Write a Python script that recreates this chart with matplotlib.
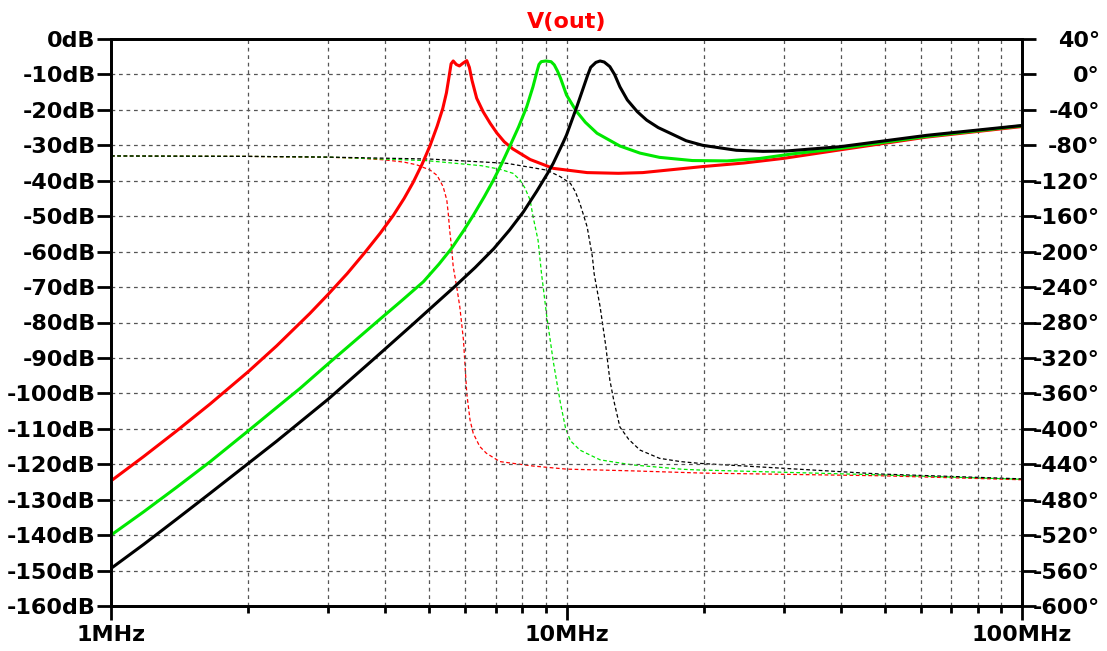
import matplotlib
matplotlib.use("Agg")
import matplotlib.pyplot as plt
from matplotlib.ticker import NullFormatter, LogLocator

plt.rcParams['font.family'] = ['DejaVu Sans']
plt.rcParams['font.weight'] = 'bold'

# magnitude curves (MHz, dB)
red_f = [1.0, 1.18, 1.39, 1.65, 2.0, 2.31, 2.73, 3.0, 3.3, 3.6, 3.9, 4.17, 4.4, 4.6, 4.82,
         5.02, 5.2, 5.35, 5.45, 5.53, 5.58, 5.64, 5.73, 5.82, 5.93, 6.04, 6.12, 6.2, 6.35, 6.56,
         6.8, 7.03, 7.3, 7.62, 8.32, 9.35, 11.1, 13.0, 14.7, 19.9, 24.5, 29.9, 39.8, 61.6, 100]
red_db = [-124.7, -117.8, -110.7, -103.0, -93.9, -86.6, -77.5, -72.0, -66.2, -60.4, -54.8, -49.7, -45.0, -40.6, -35.3,
          -30.0, -24.6, -19.6, -15.2, -10.2, -7.0, -6.2, -7.2, -7.6, -6.8, -6.1, -8, -11.6, -16.7, -20.5,
          -23.8, -26.5, -29.0, -31.0, -34.0, -36.5, -37.7, -37.9, -37.7, -36.0, -35.0, -33.7, -31.3, -27.7, -24.7]

green_f = [1.0, 1.18, 1.39, 1.65, 2.0, 2.31, 2.6, 3.0, 3.4, 3.9, 4.35, 4.85, 5.25, 5.6, 5.95,
           6.24, 6.6, 6.9, 7.2, 7.5, 7.85, 8.18, 8.44, 8.6, 8.7, 8.8, 9.0, 9.25, 9.4, 9.55,
           9.7, 10.0, 10.5, 11.0, 11.67, 13.1, 14.5, 16.0, 18.9, 22.5, 26.6, 31.4, 39.8, 61.6, 100]
green_db = [-140, -133.4, -126.6, -119.3, -110.6, -104.0, -98.6, -91.6, -85.6, -79.0, -73.8, -68.5, -63.5, -59.0, -54.0,
            -49.8, -44.5, -40, -35.3, -30.4, -24.8, -19.1, -13.5, -9.5, -7.2, -6.4, -6.2, -6.4, -7.3, -9,
            -11, -15.8, -20.3, -23.5, -26.6, -30.2, -32.2, -33.4, -34.3, -34.4, -33.7, -32.4, -30.9, -27.5, -24.5]

black_f = [1.0, 1.18, 1.39, 1.65, 2.0, 2.31, 3.0, 3.83, 4.6, 5.1, 5.69, 6.3, 6.92, 7.5, 8.04,
           8.6, 9.1, 9.35, 9.84, 10.0, 10.55, 10.9, 11.13, 11.3, 11.6, 11.85, 12.1, 12.45, 12.75, 13.1,
           13.6, 14.3, 15.0, 15.9, 16.9, 18.3, 19.9, 23.6, 27.0, 30.4, 39.8, 61.6, 100]
black_db = [-149.4, -142.6, -135.6, -128.2, -119.8, -113.5, -101.6, -89.6, -80.5, -75.3, -69.8, -64.5, -59.2, -53.9, -48.8,
            -43.0, -37.8, -35.1, -29.1, -27.1, -18.9, -13.6, -10.2, -8.0, -6.6, -6.2, -6.5, -7.8, -10, -13.5,
            -17.2, -20.5, -22.9, -25, -26.6, -28.7, -30.0, -31.4, -31.7, -31.6, -30.4, -27.2, -24.4]

# phase curves (MHz, degrees)
red_pf = [1.0, 2.0, 3.0, 3.5, 4.0, 4.4, 4.69, 5.02, 5.2, 5.36, 5.46, 5.5, 5.54, 5.6, 5.64,
          5.74, 5.83, 5.94, 6.04, 6.14, 6.24, 6.45, 6.67, 7.14, 8.44, 10, 14, 20, 49, 100]
red_ph = [-92, -92.5, -93.5, -94.5, -96.5, -99, -102, -108, -114, -126.7, -141.7, -156.7, -175.6, -198, -217,
          -239.6, -262, -299.7, -360, -390, -405, -420, -427.6, -437, -442, -445.5, -447.5, -450, -453, -457.5]

green_pf = [1.0, 2.0, 3.0, 4.93, 6.5, 7.14, 7.63, 7.9, 8.1, 8.32, 8.44, 8.66, 8.81, 9.05, 9.36,
            9.69, 9.95, 10.2, 10.7, 11.1, 11.85, 12.7, 14, 18, 19.6, 48.8, 100]
green_ph = [-92, -92.5, -93.3, -97.3, -103, -107, -111.6, -119, -128, -141.7, -160, -187, -224, -273, -325,
            -370, -399, -413.5, -424, -428, -435, -437.5, -440.8, -445.7, -446.5, -452, -457]

black_pf = [1.0, 2.0, 3.0, 5.0, 7.39, 9.05, 9.69, 10.2, 10.45, 10.7, 11.1, 11.4, 11.5, 11.85, 12.2,
            12.45, 12.7, 13.1, 13.7, 14.5, 16, 17.8, 19.6, 48.8, 100]
black_ph = [-92, -92.5, -93.3, -95.5, -100.3, -108, -115.4, -123, -132, -145.5, -172, -206, -225, -262, -307,
            -345, -368, -398, -412, -424, -433.3, -437, -439, -451, -456.5]

db_ticks = list(range(0, -170, -10))
deg_ticks = list(range(40, -640, -40))
freq_ticks = [1, 10, 100]
freq_labels = ['1MHz', '10MHz', '100MHz']

GREEN = '#00e800'

fig = plt.figure(figsize=(11.07, 6.51), dpi=100)
ax = fig.add_axes([111 / 1107, 1 - 606 / 651, (1022 - 111) / 1107, (606 - 39) / 651])
ax2 = ax.twinx()

ax.set_xscale('log')
ax.set_xlim(1, 100)
ax.set_ylim(-160, 0)
ax2.set_ylim(-600, 40)

# phase (thin dashed) on right axis
for f, p, c in [(red_pf, red_ph, 'red'), (green_pf, green_ph, GREEN), (black_pf, black_ph, 'black')]:
    ax2.plot(f, p, color=c, lw=0.9, linestyle=(0, (3, 2)))

# magnitude on left axis, on top
for f, d, c in [(red_f, red_db, 'red'), (green_f, green_db, GREEN), (black_f, black_db, 'black')]:
    ax.plot(f, d, color=c, lw=2.2, solid_joinstyle='round')

ax.set_zorder(ax2.get_zorder() + 1)
ax.patch.set_visible(False)

ax.set_yticks(db_ticks)
ax.set_yticklabels([f'{v}dB' for v in db_ticks])
ax2.set_yticks(deg_ticks)
ax2.set_yticklabels([f'{v}°' for v in deg_ticks], ha='right')
ax.set_xticks(freq_ticks)
ax.set_xticklabels(freq_labels)
ax.xaxis.set_minor_locator(LogLocator(base=10, subs=range(2, 10)))
ax.xaxis.set_minor_formatter(NullFormatter())

ax.grid(True, which='both', axis='x', color='#555555', lw=0.9, linestyle=(0, (3, 3)))
ax.grid(True, which='major', axis='y', color='#555555', lw=0.9, linestyle=(0, (3, 3)))

for a in (ax, ax2):
    for s in a.spines.values():
        s.set_linewidth(2)
    a.tick_params(which='major', length=10, width=2, direction='out', labelsize=16, pad=1)
ax2.tick_params(axis='y', pad=46)
ax.tick_params(axis='x', which='major', pad=4)
ax.tick_params(axis='x', which='minor', length=5, width=2, direction='out')

ax.set_title('V(out)', color='red', fontsize=16, fontweight='bold', pad=8)

fig.savefig('out.png', dpi=100)
